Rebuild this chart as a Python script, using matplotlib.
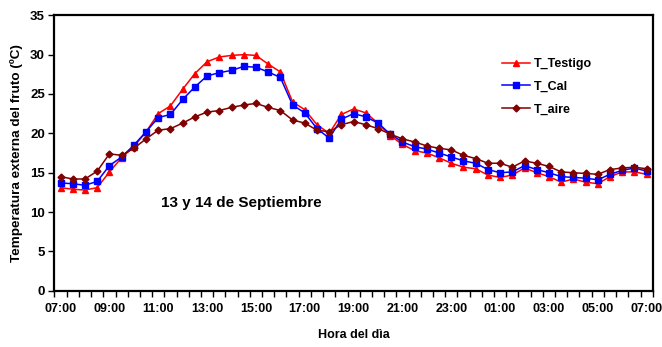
import matplotlib
matplotlib.use("Agg")
import matplotlib.pyplot as plt
import numpy as np

plt.rcParams['font.family'] = ['Liberation Sans', 'DejaVu Sans']

hours = ["07:00", "09:00", "11:00", "13:00", "15:00", "17:00", "19:00",
         "21:00", "23:00", "01:00", "03:00", "05:00", "07:00"]

t_testigo = [13.1, 12.9, 12.8, 13.1, 15.1, 16.9, 18.3, 20.2, 22.5, 23.5,
             25.6, 27.6, 29.1, 29.7, 29.9, 30.0, 29.9, 28.8, 27.8, 24.0,
             23.0, 21.1, 20.0, 22.4, 23.1, 22.6, 21.3, 19.7, 18.6, 17.8,
             17.5, 16.9, 16.2, 15.7, 15.5, 14.7, 14.4, 14.7, 15.6, 15.0,
             14.5, 13.8, 14.2, 13.8, 13.6, 14.5, 15.1, 15.1, 14.8]
t_cal = [13.7, 13.6, 13.4, 13.9, 15.9, 17.0, 18.5, 20.2, 22.0, 22.4,
         24.3, 25.9, 27.3, 27.7, 28.0, 28.5, 28.4, 27.8, 27.1, 23.6,
         22.6, 20.6, 19.4, 21.8, 22.5, 22.1, 21.3, 19.9, 18.9, 18.3,
         18.0, 17.5, 17.0, 16.5, 16.2, 15.4, 15.0, 15.1, 15.9, 15.4,
         15.0, 14.5, 14.4, 14.3, 14.1, 14.8, 15.3, 15.6, 15.2]
t_aire = [14.5, 14.2, 14.2, 15.2, 17.4, 17.2, 18.1, 19.3, 20.4, 20.6,
          21.3, 22.1, 22.7, 22.9, 23.3, 23.6, 23.8, 23.3, 22.9, 21.7,
          21.3, 20.4, 20.2, 21.1, 21.5, 21.1, 20.6, 19.9, 19.3, 18.9,
          18.4, 18.1, 17.9, 17.2, 16.8, 16.2, 16.2, 15.7, 16.5, 16.2,
          15.8, 15.1, 15.0, 14.9, 14.8, 15.4, 15.6, 15.7, 15.5]

x = np.arange(len(t_testigo))

fig = plt.figure(figsize=(6.62, 3.47), dpi=100)
ax = fig.add_axes([0.0823, 0.162, 0.9037, 0.794])

ax.plot(x, t_testigo, color='#FF0000', marker='^', markersize=5, lw=1.1, label='T_Testigo')
ax.plot(x, t_cal, color='#0000FF', marker='s', markersize=4, lw=1.1, label='T_Cal')
ax.plot(x, t_aire, color='#800000', marker='D', markersize=3.5, lw=1.1, label='T_aire')

ax.set_xlim(-0.5, len(x) - 0.5)
ax.set_ylim(0, 35)
ax.set_yticks(np.arange(0, 36, 5))
ax.set_xticks(np.arange(0, len(x), 4))
ax.set_xticklabels(hours)
ax.set_xticks(np.arange(-0.5, len(x), 1), minor=True)
ax.tick_params(axis='x', which='major', length=0, pad=9)
ax.tick_params(axis='x', which='minor', length=4, width=1, direction='out')
ax.tick_params(axis='y', which='major', length=4, width=1, direction='out', pad=3)
for lab in ax.get_xticklabels():
    lab.set_fontweight('bold')
    lab.set_fontsize(9)
for lab in ax.get_yticklabels():
    lab.set_fontweight('bold')
    lab.set_fontsize(9.5)

for s in ax.spines.values():
    s.set_linewidth(1.6)

ax.set_xlabel('Hora del dìa', fontsize=9, fontweight='bold', labelpad=10)
ax.set_ylabel('Temperatura externa del fruto (ºC)', fontsize=9.7, fontweight='bold', labelpad=5)

ax.text(8.2, 11.1, '13 y 14 de Septiembre', fontsize=11, fontweight='bold', va='center')

leg = ax.legend(loc='upper left', bbox_to_anchor=(0.73, 0.885), frameon=False,
                prop={'weight': 'bold', 'size': 9}, handlelength=2.2,
                labelspacing=0.85, handletextpad=0.3)

fig.savefig('out.png', dpi=100)
